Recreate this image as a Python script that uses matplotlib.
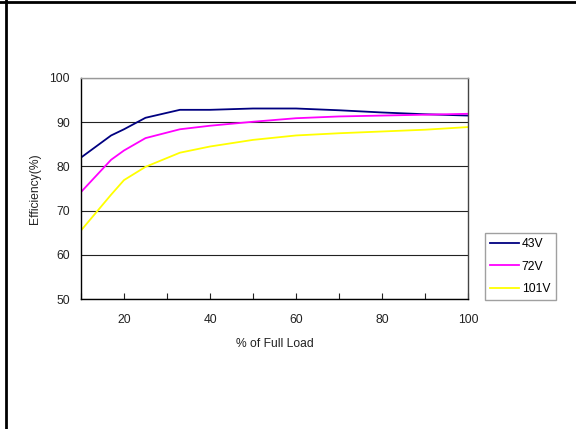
import matplotlib
matplotlib.use('Agg')
import matplotlib.pyplot as plt
from matplotlib.lines import Line2D

plt.rcParams['font.family'] = ['Liberation Sans', 'DejaVu Sans']

load = [10, 17, 20, 25, 33, 40, 50, 60, 70, 80, 90, 100]
eff_43v = [82.0, 87.0, 88.4, 91.0, 92.8, 92.8, 93.1, 93.1, 92.7, 92.2, 91.8, 91.5]
eff_72v = [74.2, 81.5, 83.6, 86.4, 88.4, 89.2, 90.1, 90.9, 91.3, 91.5, 91.7, 91.9]
eff_101v = [65.5, 73.6, 76.9, 79.9, 83.1, 84.5, 86.0, 87.0, 87.5, 87.9, 88.3, 88.9]
names = ['43V', '72V', '101V']
colors = ['#000080', '#FF00FF', '#FFFF00']

xticks = [10, 20, 30, 40, 50, 60, 70, 80, 90, 100]
xlabels = ['', '20', '', '40', '', '60', '', '80', '', '100']
yticks = [50, 60, 70, 80, 90, 100]

fs = 8.7

fig = plt.figure(figsize=(5.76, 4.29), dpi=100)
ax = fig.add_axes([81/576, 1-299/429, (468-81)/576, (299-78)/429])

for data, name, c in zip([eff_43v, eff_72v, eff_101v], names, colors):
    ax.plot(load, data, color=c, lw=1.3, label=name)

ax.set_xlim(10, 100)
ax.set_ylim(50, 100)
ax.set_xticks(xticks)
ax.set_xticklabels(xlabels)
ax.set_yticks(yticks)
ax.tick_params(axis='x', direction='in', length=4, width=0.8, pad=10.5, labelsize=fs, colors='#222222')
ax.tick_params(axis='y', length=0, pad=8, labelsize=fs, colors='#222222')
ax.yaxis.grid(True, color='#222222', lw=0.8)
ax.set_axisbelow(True)

ax.spines['left'].set_color('black')
ax.spines['bottom'].set_color('black')
ax.spines['top'].set_color('#999999')
ax.spines['right'].set_color('#444444')
for s in ax.spines.values():
    s.set_linewidth(1.0)

ax.set_xlabel('% of Full Load', fontsize=fs, labelpad=9, color='#222222')
ax.set_ylabel('Efficiency(%)', fontsize=fs, labelpad=6, color='#222222')

leg = ax.legend(loc='upper left', bbox_to_anchor=(485/576, 1-233/429),
                bbox_transform=fig.transFigure, fontsize=fs, frameon=True,
                fancybox=False, handlelength=2.4, handletextpad=0.2,
                labelspacing=0.85, borderpad=0.45, borderaxespad=0)
leg.get_frame().set_edgecolor('#888888')
leg.get_frame().set_linewidth(1.0)

# outer frame (left and top edges)
fig.add_artist(Line2D([6/576, 6/576], [0, 1], color='black', lw=2, transform=fig.transFigure))
fig.add_artist(Line2D([0, 1], [1-2/429, 1-2/429], color='black', lw=2, transform=fig.transFigure))

fig.savefig('out.png', dpi=100)
